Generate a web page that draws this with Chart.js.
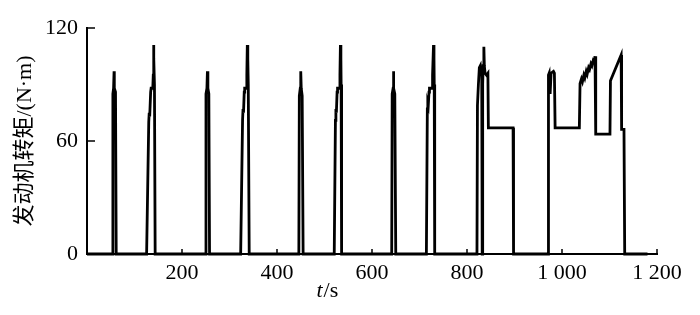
<!DOCTYPE html>
<html><head><meta charset="utf-8">
<script src="https://cdn.jsdelivr.net/npm/chart.js@4.4.0/dist/chart.umd.min.js"></script>
<style>html,body{margin:0;padding:0;background:#fff}#wrap{width:700px;height:315px}</style>
</head><body><div id="wrap"><canvas id="c" width="700" height="315"></canvas></div>
<script>
// ---- data ----
const timeS = [
  0,
  53.5, 54.5, 56, 57, 57.5, 60, 61.5,
  125.5, 130, 131, 132, 134, 135, 138.5, 139.5, 140, 141, 142, 143.5,
  249.5, 250.5, 252.5, 253.5, 254.5, 256.5, 258,
  323.5, 327.5, 328.5, 329.5, 331, 332, 335.5, 336.5, 337.5, 338.5, 339.5, 341.5,
  446, 447, 449, 450, 451, 453, 455,
  520.5, 523, 524, 525, 526.5, 527.5, 531.5, 532.5, 533.5, 534.5, 535, 536,
  641.5, 642.5, 644.5, 645, 646, 648, 650,
  714.5, 716.5, 717.5, 718.5, 720, 721, 726.5, 727.5, 729.5, 730.5, 731, 732,
  821, 822, 824, 826, 828, 829, 831, 832, 833, 834, 835.5, 836.5, 838, 841, 844, 845, 897, 898,
  971, 971.5, 973, 975, 977, 982, 984, 985.5, 1036.5,
  1038, 1041, 1043, 1046, 1048, 1051, 1053, 1056, 1058, 1061, 1063, 1066, 1068, 1069.5,
  1071, 1101, 1102, 1124.5, 1125.5, 1130.5, 1132, 1180
];
const torqueNm = [
  0,
  0, 85, 88, 97, 88, 86, 0,
  0, 70, 75, 73, 86, 88, 88, 95, 111, 104, 90, 0,
  0, 85, 88, 97, 88, 85, 0,
  0, 71, 77, 75, 86, 88, 88, 95, 111, 104, 90, 0,
  0, 84, 88, 97, 88, 84, 0,
  0, 71, 77, 75, 86, 88, 88, 95, 111, 104, 90, 0,
  0, 85, 88, 97, 88, 85, 0,
  0, 77, 80, 79, 86, 88, 88, 95, 111, 104, 90, 0,
  0, 79, 90, 99, 100, 96, 95, 0, 90, 100, 110, 100, 96, 95, 96, 67, 67, 0,
  0, 95, 96, 85, 96, 97, 96, 67, 67,
  90.5, 93, 91.5, 95, 93.5, 97, 95.5, 99, 98, 101, 100, 103, 102.5, 105,
  63.7, 63.7, 92, 105.7, 66.2, 66.2, 0, 0
];
const xTickValues = [0, 200, 400, 600, 800, 1000, 1200];
const xTickLabels = ['', '200', '400', '600', '800', '1 000', '1 200'];
const yTickValues = [0, 60, 120];
const yTickLabels = ['0', '60', '120'];
const yTitle = '发动机转矩/(N·m)';
const xTitleVar = 't';
const xTitleUnit = '/s';

// ---- chart ----
const points = timeS.map((t, i) => ({x: t, y: torqueNm[i]}));
const serif = '"Liberation Serif", "Noto Sans CJK SC", serif';

const innerTicks = {
  id: 'innerTicks',
  afterDraw(chart) {
    const {ctx, chartArea: a, scales: {x, y}} = chart;
    ctx.save();
    ctx.strokeStyle = '#000';
    ctx.lineWidth = 1.5;
    xTickValues.forEach(v => {
      if (v === 0) return;
      const px = x.getPixelForValue(v);
      ctx.beginPath(); ctx.moveTo(px, a.bottom); ctx.lineTo(px, a.bottom - 5); ctx.stroke();
    });
    yTickValues.forEach(v => {
      if (v === 0) return;
      const py = y.getPixelForValue(v);
      ctx.beginPath(); ctx.moveTo(a.left, py); ctx.lineTo(a.left + 8, py); ctx.stroke();
    });
    // x-axis title "t/s" (t italic)
    ctx.fillStyle = '#000';
    ctx.textBaseline = 'alphabetic';
    ctx.font = 'italic 22px ' + serif;
    const w1 = ctx.measureText(xTitleVar).width;
    ctx.font = '22px ' + serif;
    const w2 = ctx.measureText(xTitleUnit).width;
    const cx = x.getPixelForValue(505);
    let sx = cx - (w1 + w2) / 2;
    const by = a.bottom + 43;
    ctx.font = 'italic 22px ' + serif;
    ctx.fillText(xTitleVar, sx, by);
    ctx.font = '22px ' + serif;
    ctx.fillText(xTitleUnit, sx + w1 + 1, by);
    ctx.restore();
  }
};

new Chart(document.getElementById('c'), {
  type: 'line',
  data: {
    datasets: [{
      data: points,
      borderColor: '#000',
      borderWidth: 2.8,
      pointRadius: 0,
      tension: 0,
      fill: false,
      clip: false
    }]
  },
  options: {
    responsive: false,
    animation: false,
    devicePixelRatio: 1,
    layout: {padding: {top: 28, right: 43, left: 0, bottom: 0}},
    plugins: {legend: {display: false}, tooltip: {enabled: false}},
    scales: {
      x: {
        type: 'linear',
        min: 0, max: 1200,
        afterFit: s => { s.height = 61; },
        afterBuildTicks: s => { s.ticks = xTickValues.map(v => ({value: v})); },
        grid: {display: true, drawOnChartArea: false, drawTicks: false},
        border: {display: true, color: '#000', width: 2},
        ticks: {
          padding: 6,
          color: '#000',
          font: {family: serif, size: 22},
          maxRotation: 0,
          autoSkip: false,
          callback: v => { const i = xTickValues.indexOf(v); return i >= 0 ? xTickLabels[i] : ''; }
        }
      },
      y: {
        type: 'linear',
        min: 0, max: 120,
        afterFit: s => { s.width = 87; },
        afterBuildTicks: s => { s.ticks = yTickValues.map(v => ({value: v})); },
        grid: {display: true, drawOnChartArea: false, drawTicks: false},
        border: {display: true, color: '#000', width: 2},
        ticks: {
          padding: 9,
          color: '#000',
          font: {family: serif, size: 22},
          callback: v => { const i = yTickValues.indexOf(v); return i >= 0 ? yTickLabels[i] : ''; }
        },
        title: {
          display: true,
          text: yTitle,
          color: '#000',
          font: {family: serif, size: 22},
          padding: {top: 12, bottom: 0}
        }
      }
    }
  },
  plugins: [innerTicks]
});
</script>
</body></html>
